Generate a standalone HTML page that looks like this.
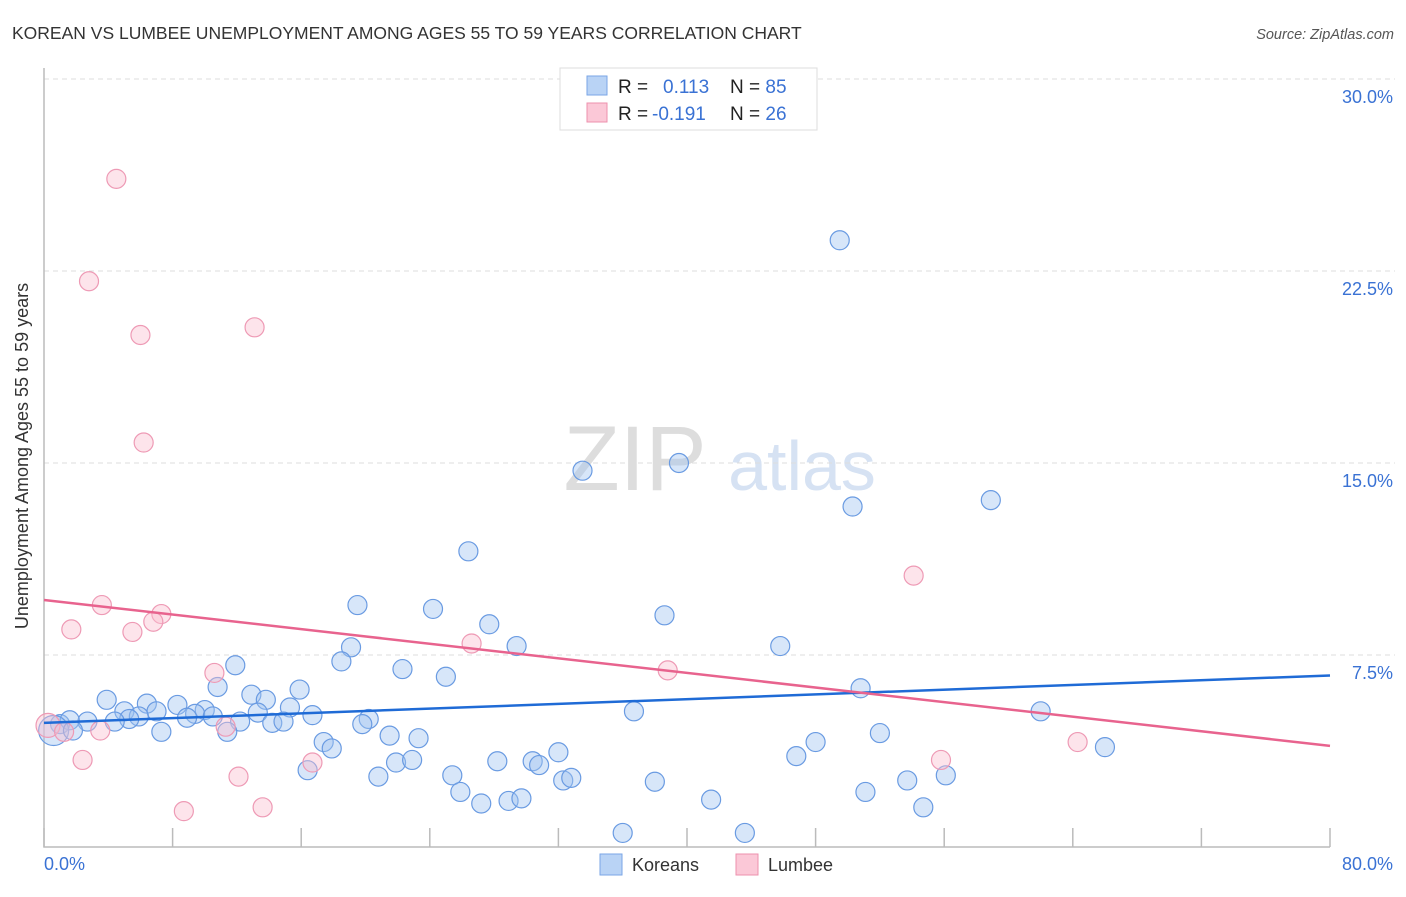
<!DOCTYPE html>
<html><head><meta charset="utf-8"><style>
body{margin:0;background:#fff;font-family:"Liberation Sans",sans-serif}
svg text{font-family:"Liberation Sans",sans-serif}
</style></head><body>
<svg id="chart" width="1406" height="892" xmlns="http://www.w3.org/2000/svg">
<text x="12" y="39" font-size="17.5" fill="#333">KOREAN VS LUMBEE UNEMPLOYMENT AMONG AGES 55 TO 59 YEARS CORRELATION CHART</text>
<text x="1394" y="39" font-size="14.5" fill="#555" font-style="italic" text-anchor="end">Source: ZipAtlas.com</text>
<g><text x="635" y="490" font-size="92" fill="#ddd" text-anchor="middle" font-family="Liberation Serif">ZIP</text><text x="802" y="490" font-size="70" fill="#d6e2f3" text-anchor="middle">atlas</text></g>
<g id="grid"></g><g id="axes"></g><g id="pts"></g><g id="lines"></g>
<text x="28" y="456" font-size="18" fill="#333" text-anchor="middle" transform="rotate(-90 28 456)">Unemployment Among Ages 55 to 59 years</text>
<g>
<rect x="560" y="68" width="257" height="62" fill="#fff" stroke="#ddd"/>
<rect x="587" y="76" width="20" height="19" fill="#b9d3f5" stroke="#7aa6e6"/>
<rect x="587" y="103" width="20" height="19" fill="#fbc8d7" stroke="#ee90ae"/>
<text x="618" y="93" font-size="19" fill="#222">R = <tspan fill="#3a72d4" x="663">0.113</tspan><tspan x="730" fill="#222">N = </tspan><tspan fill="#3a72d4">85</tspan></text>
<text x="618" y="120" font-size="19" fill="#222">R = <tspan fill="#3a72d4" x="652">-0.191</tspan><tspan x="730" fill="#222">N = </tspan><tspan fill="#3a72d4">26</tspan></text>
</g>
<g>
<rect x="600" y="854" width="22" height="21" fill="#b9d3f5" stroke="#7aa6e6"/>
<text x="632" y="871" font-size="18" fill="#333">Koreans</text>
<rect x="736" y="854" width="22" height="21" fill="#fbc8d7" stroke="#ee90ae"/>
<text x="768" y="871" font-size="18" fill="#333">Lumbee</text>
</g>
</svg>
<script>
const yTicks=[7.5,15,22.5,30];
const yTickLabels=["7.5%","15.0%","22.5%","30.0%"];
const xTicks=[0,8,16,24,32,40,48,56,64,72,80];
const koreanX=[49.5,33.5,39.5,50.3,58.9,26.4,19.5,24.2,38.6,27.7,19.1,29.4,45.8,18.5,11.9,22.3,25.0,10.8,15.9,50.8,3.9,12.9,13.8,6.4,8.3,5.0,15.3,10.0,9.4,7.0,13.3,16.7,36.7,62.0,10.5,8.9,5.9,5.3,12.2,20.2,2.7,4.4,14.2,14.9,19.8,1.0,1.6,0.6,1.8,7.3,11.4,52.0,21.5,23.3,17.4,17.9,48.0,66.0,32.0,46.8,28.2,30.4,30.8,21.9,22.9,16.4,20.8,25.4,56.1,32.3,32.8,38.0,53.7,25.9,51.1,27.2,28.9,29.7,41.5,54.7,36.0,43.6];
const koreanY=[23.7,14.7,15.0,13.3,13.55,11.55,9.45,9.3,9.05,8.7,7.8,7.85,7.85,7.25,7.1,6.95,6.65,6.25,6.15,6.2,5.75,5.95,5.75,5.6,5.55,5.3,5.45,5.35,5.2,5.3,5.25,5.15,5.3,5.3,5.1,5.05,5.1,5.0,4.9,5.0,4.9,4.9,4.85,4.9,4.8,4.8,4.95,4.55,4.55,4.5,4.5,4.45,4.35,4.25,4.1,3.85,4.1,3.9,3.7,3.55,3.35,3.35,3.2,3.3,3.4,3.0,2.75,2.8,2.8,2.6,2.7,2.55,2.6,2.15,2.15,1.7,1.8,1.9,1.85,1.55,0.55,0.55];
const lumbeeX=[4.5,2.8,6.0,13.1,6.2,54.1,3.6,1.7,5.5,7.3,6.8,26.6,38.8,10.6,64.3,55.8,2.4,16.7,12.1,13.6,8.7,3.5,0.25,11.3,1.25];
const lumbeeY=[26.1,22.1,20.0,20.3,15.8,10.6,9.45,8.5,8.4,9.1,8.8,7.95,6.9,6.8,4.1,3.4,3.4,3.3,2.75,1.55,1.4,4.55,4.75,4.7,4.5];
const koreanTrend=[4.85,6.7];
const lumbeeTrend=[9.65,3.95];
const NS="http://www.w3.org/2000/svg";
const X=v=>44+v*1286/80, Y=v=>847-v*25.6;
function mk(t,a,p){const e=document.createElementNS(NS,t);for(const k in a)e.setAttribute(k,a[k]);p.appendChild(e);return e;}
const grid=document.getElementById('grid'),axes=document.getElementById('axes'),pts=document.getElementById('pts'),lines=document.getElementById('lines');
yTicks.forEach((t,i)=>{
 const l=mk('line',{x1:44,x2:1395,y1:Y(t),y2:Y(t),stroke:'#ddd','stroke-dasharray':'5,4'},grid);
 
 
 const tx=mk('text',{x:1393,y:Y(t)+24,'font-size':18,fill:'#3a72d4','text-anchor':'end'},grid);
 tx.textContent=yTickLabels[i];
 
 
});
const ax=mk('path',{d:'M44 68V847H1330',stroke:'#bbb',fill:'none','stroke-width':1.5},axes);


xTicks.forEach(t=>{
 const tk=mk('line',{x1:X(t),x2:X(t),y1:828,y2:847,stroke:'#bbb','stroke-width':1.5},axes);
 
 
});
const xl0=mk('text',{x:44,y:870,'font-size':18,fill:'#3a72d4'},axes);xl0.textContent='0.0%';


const xl1=mk('text',{x:1393,y:870,'font-size':18,fill:'#3a72d4','text-anchor':'end'},axes);xl1.textContent='80.0%';


koreanX.forEach((v,i)=>{
 const c=mk('circle',{cx:X(v),cy:Y(koreanY[i]),r:(i==47?15:9.5),fill:'rgba(160,196,240,0.42)',stroke:'#6a9be2','stroke-width':1.2},pts);
 
 
});
lumbeeX.forEach((v,i)=>{
 const c=mk('circle',{cx:X(v),cy:Y(lumbeeY[i]),r:(i==22?12:9.5),fill:'rgba(250,190,208,0.42)',stroke:'#ee9ab5','stroke-width':1.2},pts);
 
 
});
const kl=mk('line',{x1:X(0),x2:X(80),y1:Y(koreanTrend[0]),y2:Y(koreanTrend[1]),stroke:'#1f6bd6','stroke-width':2.5},lines);


const ll=mk('line',{x1:X(0),x2:X(80),y1:Y(lumbeeTrend[0]),y2:Y(lumbeeTrend[1]),stroke:'#e8638e','stroke-width':2.5},lines);


</script>
</body></html>
